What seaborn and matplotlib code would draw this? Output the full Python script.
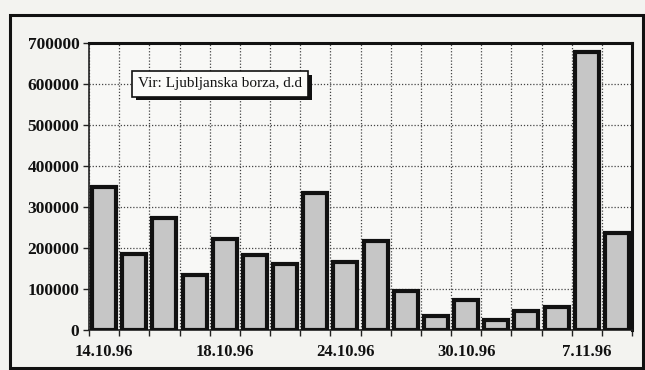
import matplotlib
matplotlib.use("Agg")
import matplotlib.pyplot as plt
import matplotlib.patches as mpatches
import matplotlib.patheffects as pe
import numpy as np
import pandas as pd
import seaborn as sns

# Daily turnover on the Ljubljana stock exchange
dates = ["14.10.96", "15.10.96", "16.10.96", "17.10.96", "18.10.96",
         "21.10.96", "22.10.96", "23.10.96", "24.10.96", "25.10.96",
         "28.10.96", "29.10.96", "30.10.96", "4.11.96", "5.11.96",
         "6.11.96", "7.11.96", "8.11.96"]
turnover = [350000, 185000, 272000, 133000, 223000, 183000, 160000, 335000,
            165000, 218000, 95000, 35000, 73000, 25000, 47000, 57000,
            677000, 237000]
shown_labels = ["14.10.96", "18.10.96", "24.10.96", "30.10.96", "7.11.96"]
y_ticks = [0, 100000, 200000, 300000, 400000, 500000, 600000, 700000]
source_note = "Vir: Ljubljanska borza, d.d"

df = pd.DataFrame({"datum": dates, "promet": turnover})

sns.set_theme(style="white")
plt.rcParams["font.family"] = ["Liberation Serif", "DejaVu Serif"]

fig = plt.figure(figsize=(6.45, 3.70), dpi=100, facecolor="#f3f3f0")
ax = fig.add_axes([89 / 645, 40 / 370, 543 / 645, 287 / 370])
ax.set_facecolor("#f8f8f6")

sns.barplot(data=df, x="datum", y="promet", ax=ax, color="#c6c6c6",
            edgecolor="#111111", linewidth=3.0, width=0.80, saturation=1,
            zorder=3)

ax.set_xlim(-0.5, len(dates) - 0.5)
ax.set_ylim(0, 700000)
ax.set_yticks(y_ticks)
ax.set_yticklabels([str(v) for v in y_ticks], fontsize=12.5,
                   fontweight="bold", color="#111111")

ax.set_xticks([dates.index(d) for d in shown_labels])
ax.set_xticklabels(shown_labels, fontsize=12, fontweight="bold",
                   color="#111111")
ax.set_xticks(np.arange(-0.5, len(dates), 1.0), minor=True)
ax.tick_params(axis="x", which="major", length=0, pad=10)
ax.tick_params(axis="x", which="minor", length=4, width=1, color="#222222",
               direction="out", bottom=True)
ax.tick_params(axis="y", length=4, width=1, color="#222222", left=True,
               direction="out", pad=3)
ax.set_xlabel("")
ax.set_ylabel("")

ax.grid(axis="y", which="major", color="#444444", linestyle=(0, (1, 1.5)),
        linewidth=0.9, zorder=0)
ax.grid(axis="x", which="minor", color="#444444", linestyle=(0, (1, 1.5)),
        linewidth=0.9, zorder=0)
ax.grid(axis="x", which="major", visible=False)

for side in ["left", "bottom"]:
    ax.spines[side].set_color("#222222")
    ax.spines[side].set_linewidth(1.2)
for side in ["top", "right"]:
    ax.spines[side].set_color("#111111")
    ax.spines[side].set_linewidth(2.2)

# source box with a drop shadow
note = ax.text(1.13, 600000, source_note, fontsize=11, color="#111111",
               ha="left", va="center", zorder=5,
               bbox=dict(boxstyle="square,pad=0.4", facecolor="#fbfbf9",
                         edgecolor="#111111", linewidth=1.2))
fig.canvas.draw()
note.get_bbox_patch().set_path_effects(
    [pe.SimplePatchShadow(offset=(2.5, -2.5), shadow_rgbFace="#111111",
                          alpha=1.0), pe.Normal()])

# outer frame around the whole chart
fig.patches.append(mpatches.Rectangle((10 / 645, 2 / 370), 633 / 645,
                                      353 / 370, transform=fig.transFigure,
                                      fill=False, edgecolor="#111111",
                                      linewidth=2.2))

fig.savefig("out.png", dpi=100, facecolor=fig.get_facecolor())
